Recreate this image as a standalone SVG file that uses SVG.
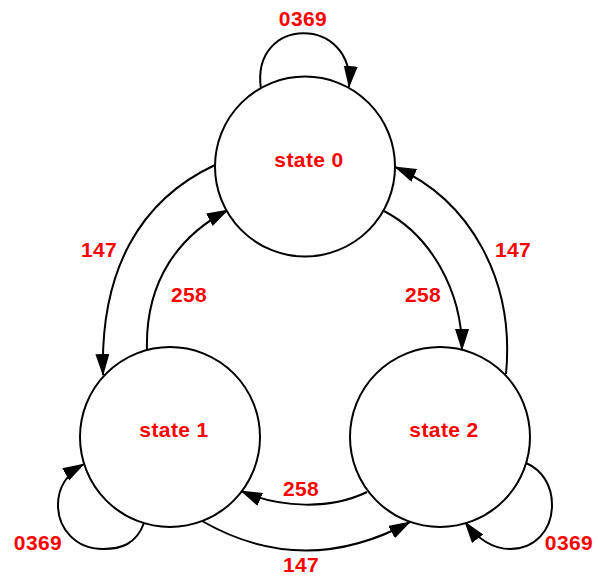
<svg xmlns="http://www.w3.org/2000/svg" width="598" height="582" viewBox="0 0 598 582">
<style>
.node circle{fill:#ffffff;stroke:#000000;stroke-width:2}
.edge path{fill:none;stroke:#000000;stroke-width:2;marker-end:url(#arrow)}
text{font-family:"Liberation Sans",Arial,sans-serif;font-weight:bold;font-size:21px;fill:#ff0000;text-anchor:middle;letter-spacing:0.4px}
</style>
<defs>
<marker id="arrow" markerUnits="userSpaceOnUse" markerWidth="23" markerHeight="15" refX="21" refY="7" orient="auto" viewBox="0 0 23 15">
<path d="M0,0 L22,7 L0,14 z" fill="#000000"/>
</marker>
</defs>
<rect width="598" height="582" fill="#ffffff"/>
<g id="connectors" class="edge">
<path d="M261,89 C250,15 355,15 349,87"/>
<path d="M215,165 C140,200 100,270 103,375"/>
<path d="M147,350 C145,280 180,235 228,210"/>
<path d="M384,211 C430,235 462,290 462,350"/>
<path d="M506,374 C515,280 470,200 395,167"/>
<path d="M367,492 C330,510 280,508 241,491"/>
<path d="M202,521 C270,560 340,560 410,522"/>
<path d="M144,523 C136,545 120,549 103,549 C75,549 58,528 58,505 C58,487 68,473 84,464"/>
<path d="M526,463 C542,470 552,485 552,505 C552,530 535,549 510,549 C492,549 477,538 465,522"/>
</g>
<g id="node-state0" class="node">
<circle cx="305" cy="166.5" r="90"/>
<text x="309" y="167">state 0</text>
</g>
<g id="node-state1" class="node">
<circle cx="170" cy="437" r="90"/>
<text x="174" y="437">state 1</text>
</g>
<g id="node-state2" class="node">
<circle cx="440" cy="437" r="90"/>
<text x="444" y="437">state 2</text>
</g>
<g id="edge-labels">
<text x="303" y="26">0369</text>
<text x="99" y="257">147</text>
<text x="189" y="302">258</text>
<text x="423" y="302">258</text>
<text x="513" y="257">147</text>
<text x="301" y="496">258</text>
<text x="301" y="572">147</text>
<text x="38" y="550">0369</text>
<text x="569" y="550">0369</text>
</g>
</svg>
